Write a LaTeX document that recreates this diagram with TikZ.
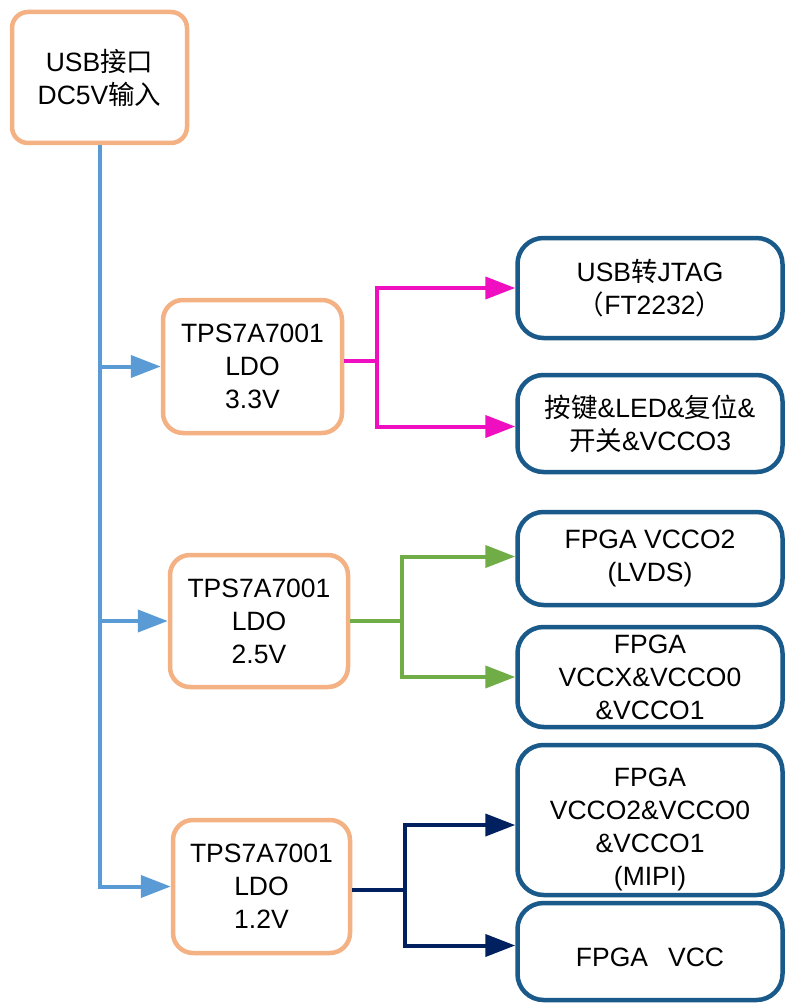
\documentclass[tikz,border=0pt]{standalone}
\usepackage{fontspec}
\setmainfont{Liberation Sans}
\newfontfamily\cjk{Noto Sans CJK SC}
\usetikzlibrary{arrows.meta}
\definecolor{boxorange}{HTML}{F4B183}
\definecolor{boxblue}{HTML}{1A5A8A}
\definecolor{lineblue}{HTML}{5B9BD5}
\definecolor{linepink}{HTML}{F00FC0}
\definecolor{linegreen}{HTML}{70AD47}
\definecolor{linenavy}{HTML}{002060}
\begin{document}
\begin{tikzpicture}[x=1pt,y=-1pt,
  txt/.style={font=\fontsize{26.5}{33}\selectfont, align=center, inner sep=0pt},
  srcbox/.style={txt, draw=boxorange, line width=4.5pt, rounded corners=16pt, fill=white},
  ldobox/.style={txt, draw=boxorange, line width=4.5pt, rounded corners=20pt, fill=white},
  loadbox/.style={txt, draw=boxblue, line width=4.5pt, rounded corners=26pt, fill=white},
  conn/.style={line width=4pt},
  arr/.style={conn, -{Triangle[length=30pt,width=22pt]}}
]
\useasboundingbox (0,0) rectangle (784,1003);

\node[srcbox, minimum width=175pt, minimum height=131pt] (src) at (99.5,77.5)
  {USB{\cjk 接口}\\DC5V{\cjk 输入}};

\node[ldobox, minimum width=179pt, minimum height=133pt] (ldo1) at (252.5,366.5)
  {TPS7A7001\\LDO\\3.3V};
\node[ldobox, minimum width=178pt, minimum height=132pt] (ldo2) at (259,621)
  {TPS7A7001\\LDO\\2.5V};
\node[ldobox, minimum width=177pt, minimum height=133pt] (ldo3) at (261.5,886.5)
  {TPS7A7001\\LDO\\1.2V};

\node[loadbox, minimum width=265pt, minimum height=100pt] (r1) at (650,288)
  {USB{\cjk 转}JTAG\\{\cjk （}FT2232{\cjk ）}};
\node[loadbox, minimum width=265pt, minimum height=97pt] (r2) at (650,423.5)
  {{\cjk 按键}\&LED\&{\cjk 复位}\&\\{\cjk 开关}\&VCCO3};
\node[loadbox, minimum width=265pt, minimum height=93pt] (r3) at (650,558.5)
  {FPGA VCCO2\\(LVDS)};
\node[loadbox, minimum width=265pt, minimum height=100pt] (r4) at (650,677)
  {FPGA\\VCCX\&VCCO0\\\&VCCO1};
\node[loadbox, minimum width=265pt, minimum height=150pt] (r5) at (650,820)
  {\rule{0pt}{37pt}FPGA\\VCCO2\&VCCO0\\\&VCCO1\\(MIPI)};
\node[loadbox, minimum width=265pt, minimum height=97pt] (r6) at (650,951.5)
  {\rule{0pt}{31pt}FPGA\hspace{20pt}VCC};

% input trunk
\draw[arr, draw=lineblue] (src.south) |- (ldo3.west);
\draw[arr, draw=lineblue] (src.south |- ldo1.west) -- (ldo1.west);
\draw[arr, draw=lineblue] (src.south |- ldo2.west) -- (ldo2.west);

% 3.3V
\draw[conn, draw=linepink] ([yshift=6pt]ldo1.east) -- ++(33,0) coordinate (p1);
\draw[arr, draw=linepink] (p1) |- (r1.west);
\draw[arr, draw=linepink] (p1) |- ([yshift=-3pt]r2.west);

% 2.5V
\draw[conn, draw=linegreen] (ldo2.east) -- ++(52,0) coordinate (p2);
\draw[arr, draw=linegreen] (p2) |- ([yshift=2pt]r3.west);
\draw[arr, draw=linegreen] (p2) |- (r4.west);

% 1.2V
\draw[conn, draw=linenavy] ([yshift=-3pt]ldo3.east) -- ++(53,0) coordinate (p3);
\draw[arr, draw=linenavy] (p3) |- ([yshift=-5pt]r5.west);
\draw[arr, draw=linenavy] (p3) |- ([yshift=6pt]r6.west);
\end{tikzpicture}
\end{document}
